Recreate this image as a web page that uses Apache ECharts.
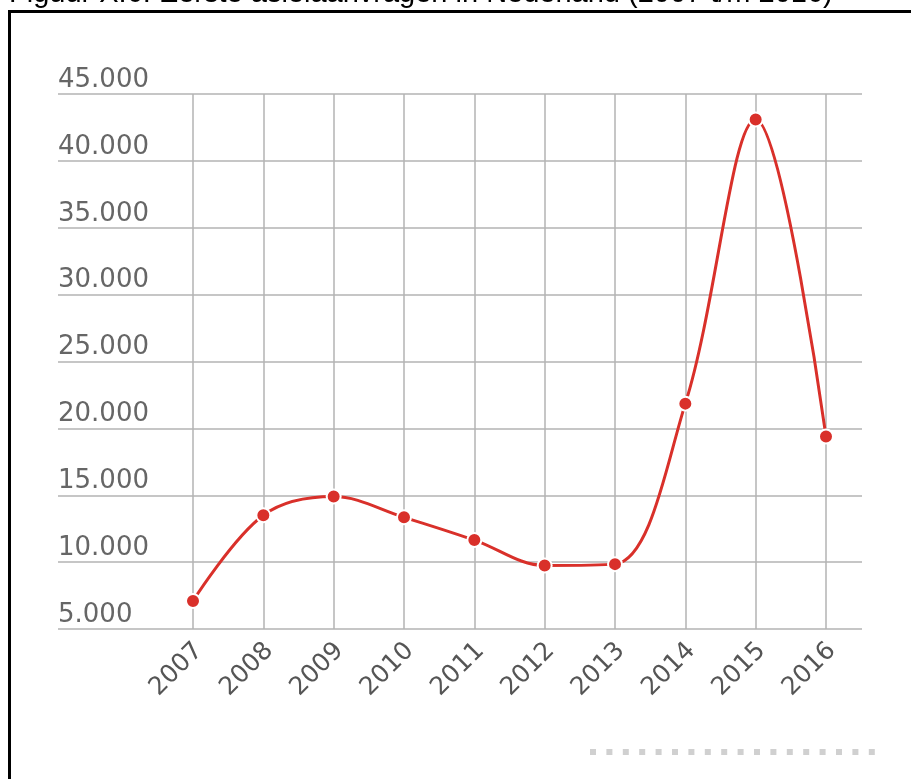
<!DOCTYPE html>
<html>
<head>
<meta charset="utf-8">
<title>Eerste asielaanvragen in Nederland</title>
<script src="https://cdn.jsdelivr.net/npm/echarts@6/dist/echarts.min.js"></script>
<style>
  html, body { margin: 0; padding: 0; background: #fff; }
  #chart { width: 911px; height: 779px; }
</style>
</head>
<body>
<div id="chart"></div>
<script>
// data
const years = ['2007', '2008', '2009', '2010', '2011', '2012', '2013', '2014', '2015', '2016']
const aanvragen = [7100, 13500, 14900, 13350, 11650, 9750, 9850, 21850, 43100, 19400]
const yMin = 5000
const yMax = 45000
const yStep = 5000

const chart = echarts.init(document.getElementById('chart'))

const gridColor = '#b3b3b3'
const labelColor = '#666'

const option = {
  animation: false,
  grid: [
    // wide grid for the horizontal lines and the labels on top of them
    { left: 58, right: 49, top: 94, bottom: 150 },
    // narrower grid for the year lines and the line itself
    { left: 193, right: 85, top: 94, bottom: 150 },
    // year labels sit a little right of their lines
    { left: 199, right: 79, top: 94, bottom: 150 }
  ],
  xAxis: [
    { gridIndex: 0, type: 'value', show: false, min: 0, max: 1 },
    {
      gridIndex: 1,
      type: 'category',
      data: years,
      boundaryGap: false,
      axisLine: { show: false },
      axisTick: { show: false },
      axisLabel: { show: false },
      splitLine: { show: true, lineStyle: { color: gridColor, width: 1.5 } }
    },
    {
      gridIndex: 2,
      type: 'category',
      data: years,
      boundaryGap: false,
      axisLine: { show: false },
      axisTick: { show: false },
      axisLabel: {
        rotate: 45,
        margin: 18,
        color: '#555',
        fontFamily: 'DejaVu Sans',
        fontSize: 25
      },
      splitLine: { show: false }
    }
  ],
  yAxis: [
    {
      gridIndex: 0,
      type: 'value',
      min: yMin,
      max: yMax,
      interval: yStep,
      axisLine: { show: false },
      axisTick: { show: false },
      axisLabel: {
        inside: true,
        margin: 0,
        align: 'left',
        verticalAlign: 'bottom',
        padding: [0, 0, 1, 0],
        color: labelColor,
        fontFamily: 'DejaVu Sans',
        fontSize: 26,
        formatter: v => v.toLocaleString('nl-NL')
      },
      splitLine: { lineStyle: { color: gridColor, width: 1.5 } }
    },
    { gridIndex: 1, type: 'value', show: false, min: yMin, max: yMax },
    { gridIndex: 2, type: 'value', show: false, min: yMin, max: yMax }
  ],
  series: [{
    name: 'Eerste asielaanvragen',
    type: 'line',
    xAxisIndex: 1,
    yAxisIndex: 1,
    data: aanvragen,
    smooth: 0.35,
    symbol: 'circle',
    symbolSize: 14,
    lineStyle: { color: '#d9302a', width: 3 },
    itemStyle: { color: '#d9302a', borderColor: '#fff', borderWidth: 2 }
  }],
  graphic: [
    {
      type: 'text',
      left: 9,
      top: -21,
      style: {
        text: 'Figuur X.6: Eerste asielaanvragen in Nederland (2007 t/m 2016)',
        font: '29px "Liberation Sans", Arial, sans-serif',
        fill: '#000'
      }
    },
    {
      type: 'rect',
      shape: { x: 9.5, y: 11.5, width: 1200, height: 1200 },
      style: { fill: 'none', stroke: '#000', lineWidth: 3 }
    },
    {
      type: 'line',
      shape: { x1: 590, y1: 752, x2: 880, y2: 752 },
      style: { stroke: '#d0d0d0', lineWidth: 6, lineDash: [6, 10.4] }
    }
  ]
}

chart.setOption(option)
window.addEventListener('resize', () => chart.resize())
</script>
</body>
</html>
